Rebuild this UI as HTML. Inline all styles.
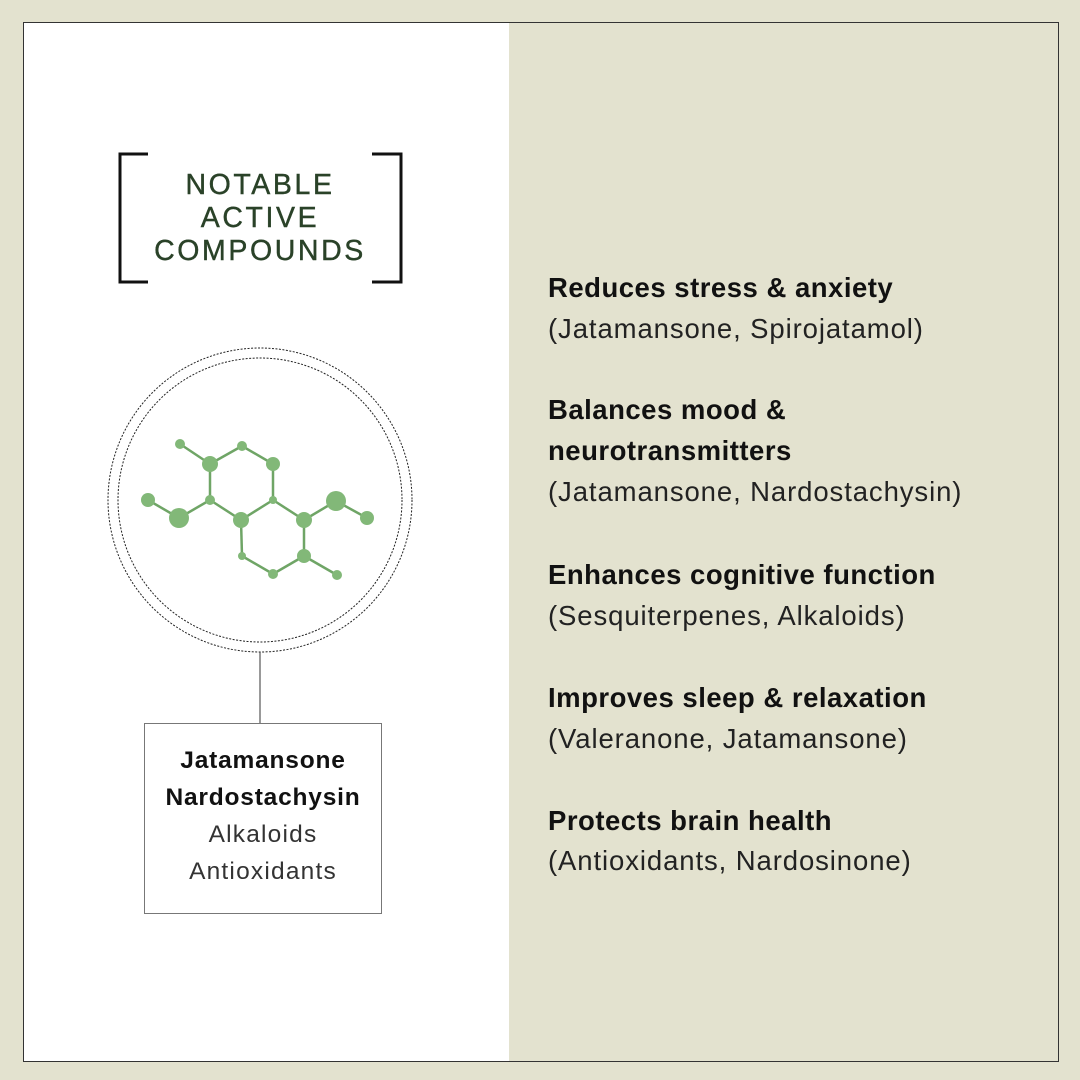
<!DOCTYPE html>
<html><head><meta charset="utf-8"><style>
*{margin:0;padding:0;box-sizing:border-box}
body{width:1080px;height:1080px;background:#e3e2cf;position:relative;overflow:hidden;font-family:"Liberation Sans",sans-serif}
.frame{position:absolute;left:23px;top:22px;width:1036px;height:1040px;border:1px solid #333}
.left{position:absolute;left:24px;top:23px;width:485px;height:1038px;background:#fff}
.t{position:absolute;left:0;font-size:27.5px;color:#111;white-space:nowrap}
.b{font-weight:bold;letter-spacing:0.5px}
.l{color:#222;letter-spacing:0.9px}
.title{position:absolute;left:110px;width:300px;text-align:center;color:#2a4228;font-size:28.5px;letter-spacing:2.6px;line-height:33px;top:169px;-webkit-text-stroke:0.4px #2a4228}
.box{position:absolute;left:144px;top:723px;width:238px;height:191px;border:1px solid #777;background:#fff;text-align:center;font-size:24.5px;line-height:37px;padding-top:18px;color:#111}
.box b{letter-spacing:0.8px}
.box span{letter-spacing:1.2px}
</style></head><body>
<div class="left"></div>
<div class="frame"></div>
<svg style="position:absolute;left:0;top:0" width="1080" height="1080">
<polyline points="148,154 120,154 120,282 148,282" fill="none" stroke="#111" stroke-width="3"/>
<polyline points="372,154 401,154 401,282 372,282" fill="none" stroke="#111" stroke-width="3"/>
<circle cx="260" cy="500" r="152" fill="none" stroke="#222" stroke-width="1" stroke-dasharray="2,1.5"/>
<circle cx="260" cy="500" r="142" fill="none" stroke="#222" stroke-width="1" stroke-dasharray="2,1.5"/>
<line x1="260" y1="652" x2="260" y2="723" stroke="#333" stroke-width="1"/>
<g stroke="#6fa566" stroke-width="2.5">
<line x1="180" y1="444" x2="210" y2="464"/><line x1="210" y1="464" x2="242" y2="446"/><line x1="242" y1="446" x2="273" y2="464"/>
<line x1="273" y1="464" x2="273" y2="500"/><line x1="210" y1="464" x2="210" y2="500"/><line x1="210" y1="500" x2="241" y2="520"/>
<line x1="241" y1="520" x2="273" y2="500"/><line x1="273" y1="500" x2="304" y2="520"/><line x1="304" y1="520" x2="336" y2="501"/>
<line x1="336" y1="501" x2="367" y2="518"/><line x1="210" y1="500" x2="179" y2="518"/><line x1="179" y1="518" x2="148" y2="500"/>
<line x1="241" y1="520" x2="242" y2="556"/><line x1="242" y1="556" x2="273" y2="574"/><line x1="273" y1="574" x2="304" y2="556"/>
<line x1="304" y1="556" x2="304" y2="520"/><line x1="304" y1="556" x2="337" y2="575"/>
</g>
<g fill="#82b878">
<circle cx="180" cy="444" r="5"/><circle cx="210" cy="464" r="8"/><circle cx="242" cy="446" r="5"/><circle cx="273" cy="464" r="7"/>
<circle cx="210" cy="500" r="5"/><circle cx="273" cy="500" r="4"/><circle cx="241" cy="520" r="8"/><circle cx="304" cy="520" r="8"/>
<circle cx="336" cy="501" r="10"/><circle cx="367" cy="518" r="7"/><circle cx="179" cy="518" r="10"/><circle cx="148" cy="500" r="7"/>
<circle cx="242" cy="556" r="4"/><circle cx="273" cy="574" r="5"/><circle cx="304" cy="556" r="7"/><circle cx="337" cy="575" r="5"/>
</g>
</svg>
<div class="title">NOTABLE<br>ACTIVE<br>COMPOUNDS</div>
<div class="box"><b>Jatamansone</b><br><b>Nardostachysin</b><br><span style="color:#333">Alkaloids<br>Antioxidants</span></div>
<div class="t b" style="left:548px;top:272px">Reduces stress &amp; anxiety</div>
<div class="t l" style="left:548px;top:313px">(Jatamansone, Spirojatamol)</div>
<div class="t b" style="left:548px;top:394px">Balances mood &amp;</div>
<div class="t b" style="left:548px;top:435px">neurotransmitters</div>
<div class="t l" style="left:548px;top:476px">(Jatamansone, Nardostachysin)</div>
<div class="t b" style="left:548px;top:559px">Enhances cognitive function</div>
<div class="t l" style="left:548px;top:600px">(Sesquiterpenes, Alkaloids)</div>
<div class="t b" style="left:548px;top:682px">Improves sleep &amp; relaxation</div>
<div class="t l" style="left:548px;top:723px">(Valeranone, Jatamansone)</div>
<div class="t b" style="left:548px;top:805px">Protects brain health</div>
<div class="t l" style="left:548px;top:845px">(Antioxidants, Nardosinone)</div>
</body></html>
